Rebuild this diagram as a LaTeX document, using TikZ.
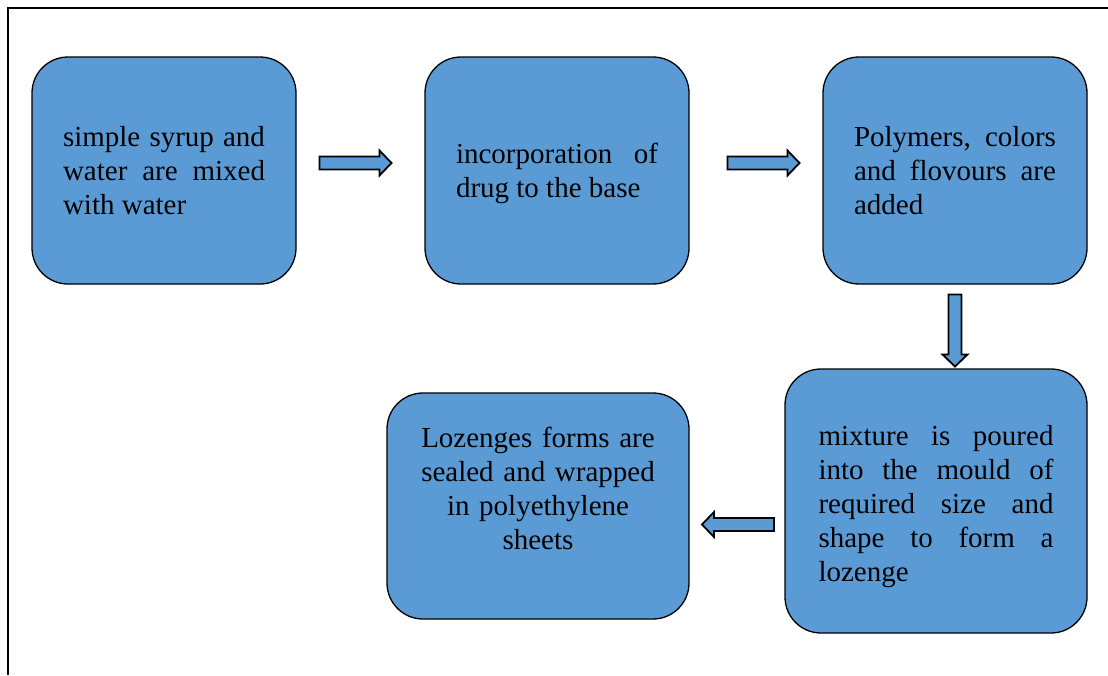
\documentclass[tikz,border=0pt]{standalone}
\usepackage{fontspec}
\setmainfont{Liberation Serif}
\usetikzlibrary{positioning}
\definecolor{boxblue}{HTML}{5B9BD5}
\tikzset{
    stepbox/.style={
        rectangle, rounded corners=36pt,
        draw=black, line width=1.3pt, fill=boxblue,
        minimum width=264pt, minimum height=227pt,
        text width=202pt, align=justify, inner sep=0pt,
        font=\fontsize{29}{34}\selectfont
    },
    widebox/.style={
        stepbox, minimum width=302pt
    },
    arrowpen/.style={
        draw=black, line width=1.8pt, fill=boxblue, line join=miter
    },
    blockarrow/.pic={
        \path[arrowpen] (-36,-6.5) -- (24,-6.5) -- (24,-12.5) -- (36,0)
            -- (24,12.5) -- (24,6.5) -- (-36,6.5) -- cycle;
    }
}
\tolerance=9999
\hyphenpenalty=10000

\begin{document}
\begin{tikzpicture}[x=1pt, y=-1pt]

    \useasboundingbox (0,0) rectangle (1108,675);
    % Frame
    \draw[line width=1.6pt] (1108,8) -- (8,8) -- (8,675);

    % Boxes
    \node[stepbox] (mix) at (164,170.5) {simple syrup and water are mixed with water};
    \node[stepbox, text depth=34pt] (drug) at (557,170.5) {incorporation of drug to the base};
    \node[stepbox] (poly) at (955,170.5) {Polymers, colors and flovours are added};
    \node[widebox, minimum height=264pt, text width=235pt, text depth=132pt] (mould) at (936,501)
        {mixture is poured into the mould of required size and shape to form a lozenge};
    \node[widebox, minimum height=226pt, text width=250pt, align=center,
        text depth=138pt] (seal) at (538,506)
        {Lozenges forms are\\ sealed and wrapped\\ in polyethylene\\ sheets};

    % Arrows
    \pic at (355.5,163) {blockarrow};
    \pic at (763.5,163) {blockarrow};
    \pic[rotate=-90] at (955,330.5) {blockarrow};
    \pic[rotate=180] at (738,524.5) {blockarrow};

\end{tikzpicture}
\end{document}
